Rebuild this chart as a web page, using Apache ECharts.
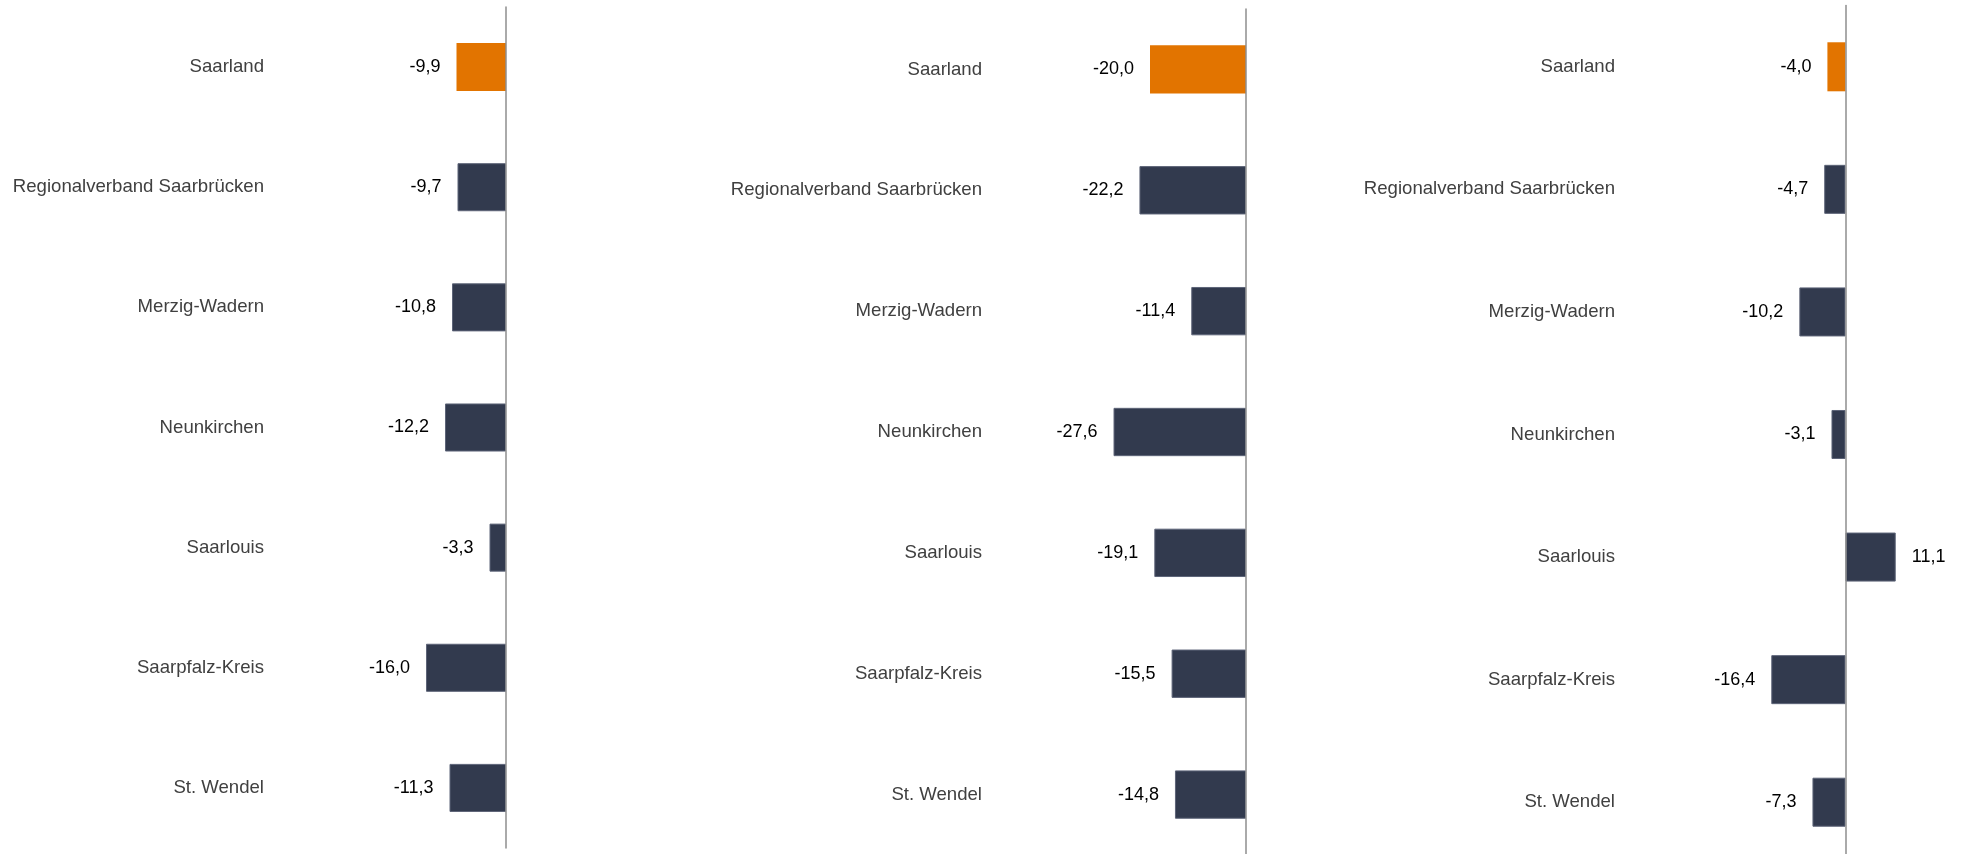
<!DOCTYPE html>
<html>
<head>
<meta charset="utf-8">
<script src="https://cdn.jsdelivr.net/npm/echarts@6/dist/echarts.min.js"></script>
<style>
  html, body { margin: 0; padding: 0; background: #ffffff; }
  #chart { width: 1964px; height: 854px; }
</style>
</head>
<body>
<div id="chart"></div>
<script>
// Districts of Saarland, top to bottom
const categories = [
  'Saarland',
  'Regionalverband Saarbrücken',
  'Merzig-Wadern',
  'Neunkirchen',
  'Saarlouis',
  'Saarpfalz-Kreis',
  'St. Wendel'
];

// Change in percent, one array per panel
const valuesPanel1 = [-9.9, -9.7, -10.8, -12.2, -3.3, -16.0, -11.3];
const valuesPanel2 = [-20.0, -22.2, -11.4, -27.6, -19.1, -15.5, -14.8];
const valuesPanel3 = [-4.0, -4.7, -10.2, -3.1, 11.1, -16.4, -7.3];

// Value-axis ranges per panel
const axisMin = [-40, -40, -20];
const axisMax = [0, 0, 20];

const COLOR_STATE = '#E27400';
const COLOR_DISTRICT = '#323A4E';
const FONT = '"Liberation Sans", Arial, sans-serif';

// Panel frames; margin is the gap between the grid's left edge and the category labels
const panels = [
  { values: valuesPanel1, left: 306,  width: 200, top: 7,   height: 841, margin: 42 },
  { values: valuesPanel2, left: 1054, width: 192, top: 9,   height: 846, margin: 72 },
  { values: valuesPanel3, left: 1755, width: 181, top: 5.5, height: 858, margin: 140 }
];

const fmt = v => v.toFixed(1).replace('.', ',');

const barStyle = name => name === 'Saarland'
  ? { color: COLOR_STATE }
  : { color: COLOR_DISTRICT, borderColor: '#5d6478', borderWidth: 1 };

const option = {
  backgroundColor: '#ffffff',
  animation: false,
  grid: panels.map(p => ({
    left: p.left, top: p.top, width: p.width, height: p.height,
    containLabel: false,
    outerBoundsMode: 'none'
  })),
  xAxis: panels.map((p, i) => ({
    type: 'value',
    gridIndex: i,
    min: axisMin[i],
    max: axisMax[i],
    axisLine: { show: false },
    axisTick: { show: false },
    axisLabel: { show: false },
    splitLine: { show: false }
  })),
  yAxis: panels.map((p, i) => ({
    type: 'category',
    gridIndex: i,
    data: categories,
    inverse: true,
    z: 5,
    axisLine: { show: true, onZero: true, lineStyle: { color: '#8e8e8e', width: 1.5 } },
    axisTick: { show: false },
    axisLabel: {
      margin: p.margin,
      color: '#404040',
      fontSize: 18.6,
      fontFamily: FONT
    },
    splitLine: { show: false }
  })),
  series: panels.map((p, i) => ({
    type: 'bar',
    xAxisIndex: i,
    yAxisIndex: i,
    barWidth: '40%',
    data: p.values.map((v, k) => ({
      value: v,
      itemStyle: barStyle(categories[k]),
      label: { position: v < 0 ? 'left' : 'right' }
    })),
    label: {
      show: true,
      distance: 16,
      color: '#000000',
      fontSize: 18,
      fontFamily: FONT,
      formatter: d => fmt(d.value)
    }
  }))
};

const chart = echarts.init(document.getElementById('chart'), null, { renderer: 'canvas' });
chart.setOption(option);
</script>
</body>
</html>
